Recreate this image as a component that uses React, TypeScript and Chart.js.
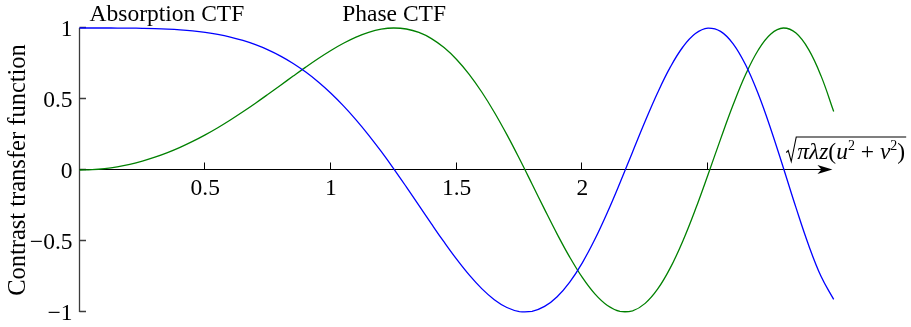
import { useEffect, useRef } from "react";
import { Chart, registerables } from "chart.js";

Chart.register(...registerables);

// Normalised spatial frequency sqrt(pi*lambda*z*(u^2+v^2))
const freq = [
  0, 0.05, 0.1, 0.15, 0.2, 0.25, 0.3, 0.35, 0.4, 0.45,
  0.5, 0.55, 0.6, 0.65, 0.7, 0.75, 0.8, 0.85, 0.9, 0.95,
  1, 1.05, 1.1, 1.15, 1.2, 1.25, 1.3, 1.35, 1.4, 1.45,
  1.5, 1.55, 1.6, 1.65, 1.7, 1.75, 1.8, 1.85, 1.9, 1.95,
  2, 2.05, 2.1, 2.15, 2.2, 2.25, 2.3, 2.35, 2.4, 2.45,
  2.5, 2.55, 2.6, 2.65, 2.7, 2.75, 2.8, 2.85, 2.9, 2.95,
  3,
];

const absorptionCtf = [
  1, 1, 1, 0.9997, 0.9992, 0.998, 0.996, 0.9925, 0.9872, 0.9796,
  0.9689, 0.9546, 0.9359, 0.9121, 0.8823, 0.8459, 0.8021, 0.7502, 0.6895, 0.6197,
  0.5403, 0.4514, 0.353, 0.2458, 0.1304, 0.0083, -0.1189, -0.249, -0.3795, -0.507,
  -0.6282, -0.7391, -0.8356, -0.9135, -0.9685, -0.9969, -0.9952, -0.9608, -0.8923, -0.7894,
  -0.6536, -0.4881, -0.2978, -0.0898, 0.1273, 0.343, 0.546, 0.7244, 0.8662, 0.9609,
  0.9994, 0.976, 0.8885, 0.7389, 0.5346, 0.2874, 0.014, -0.2653, -0.5278, -0.7503,
  -0.9111,
];

const phaseCtf = [
  0, 0.0025, 0.01, 0.0225, 0.04, 0.0625, 0.0899, 0.1222, 0.1593, 0.2011,
  0.2474, 0.2979, 0.3523, 0.41, 0.4706, 0.5333, 0.5972, 0.6613, 0.7243, 0.7849,
  0.8415, 0.8923, 0.9357, 0.9693, 0.9915, 1, 0.9929, 0.9685, 0.9252, 0.8619,
  0.7781, 0.6736, 0.5494, 0.4069, 0.2489, 0.079, -0.0983, -0.2772, -0.4515, -0.6138,
  -0.7568, -0.8728, -0.9546, -0.996, -0.9919, -0.9393, -0.8378, -0.6894, -0.4996, -0.277,
  -0.0332, 0.2176, 0.459, 0.6738, 0.8451, 0.9578, 0.9999, 0.9642, 0.8494, 0.6611,
  0.4121,
];

const xTickValues = [0.5, 1, 1.5, 2, 2.5];
const xTickLabels = ["0.5", "1", "1.5", "2", ""];
const yTickValues = [1, 0.5, 0, -0.5, -1];
const yTickLabels = ["1", "0.5", "0", "\u22120.5", "\u22121"];
const seriesNames = ["Absorption CTF", "Phase CTF"];
const yAxisTitle = "Contrast transfer function";

const SERIF = '"Liberation Serif", "Times New Roman", "DejaVu Serif", serif';
const FONT_SIZE = 23.5;

const axesPlugin = {
  id: "ctfAxes",
  beforeDatasetsDraw(chart: any) {
    const { ctx } = chart;
    const xs = chart.scales.x;
    const ys = chart.scales.y;
    const x0 = xs.getPixelForValue(0);
    const y0 = Math.round(ys.getPixelForValue(0)) - 0.5;
    const yTop = ys.getPixelForValue(1);
    const yBot = ys.getPixelForValue(-1);
    const tipX = xs.getPixelForValue(2.995);

    ctx.save();
    // vertical axis with inward ticks
    ctx.strokeStyle = "#3c3c3c";
    ctx.lineWidth = 1.3;
    ctx.beginPath();
    ctx.moveTo(x0, yTop);
    ctx.lineTo(x0, yBot);
    yTickValues.forEach((v) => {
      const py = Math.round(ys.getPixelForValue(v)) - 0.5;
      ctx.moveTo(x0, py);
      ctx.lineTo(x0 + 6.5, py);
    });
    ctx.stroke();

    // horizontal axis with arrow
    ctx.strokeStyle = "#000";
    ctx.lineWidth = 1;
    ctx.beginPath();
    ctx.moveTo(x0, y0);
    ctx.lineTo(tipX - 8, y0);
    xTickValues.forEach((v) => {
      const px = Math.round(xs.getPixelForValue(v)) - 0.5;
      ctx.moveTo(px, y0);
      ctx.lineTo(px, y0 - 7);
    });
    ctx.stroke();
    ctx.fillStyle = "#000";
    ctx.beginPath();
    ctx.moveTo(tipX, y0);
    ctx.lineTo(tipX - 15, y0 - 4.5);
    ctx.lineTo(tipX - 11, y0);
    ctx.lineTo(tipX - 15, y0 + 4.5);
    ctx.closePath();
    ctx.fill();

    // tick labels
    ctx.font = `${FONT_SIZE}px ${SERIF}`;
    ctx.fillStyle = "#000";
    ctx.textBaseline = "alphabetic";
    ctx.textAlign = "right";
    yTickValues.forEach((v, i) => {
      ctx.fillText(yTickLabels[i], x0 - 7, ys.getPixelForValue(v) + 7.5);
    });
    ctx.textAlign = "center";
    xTickValues.forEach((v, i) => {
      if (xTickLabels[i]) ctx.fillText(xTickLabels[i], xs.getPixelForValue(v), y0 + 25.5);
    });

    // axis title on the left
    ctx.save();
    ctx.font = `24.5px ${SERIF}`;
    ctx.translate(25, (yTop + yBot) / 2);
    ctx.rotate(-Math.PI / 2);
    ctx.textAlign = "center";
    ctx.fillText(yAxisTitle, 0, 0);
    ctx.restore();

    // x-axis title: sqrt(pi lambda z (u^2 + v^2))
    const base = y0 - 11;
    const startX = xs.getPixelForValue(2.855);
    const italic = `italic ${FONT_SIZE}px ${SERIF}`;
    const roman = `${FONT_SIZE}px ${SERIF}`;
    const sup = `${Math.round(FONT_SIZE * 0.6)}px ${SERIF}`;
    const parts: Array<[string, string, number]> = [
      ["\u03c0", italic, 0],
      ["\u03bb", italic, 0],
      ["z", italic, 0],
      ["(", roman, 0],
      ["u", italic, 0],
      ["2", sup, -9],
      [" + ", roman, 0],
      ["v", italic, 0],
      ["2", sup, -9],
      [")", roman, 0],
    ];
    ctx.textAlign = "left";
    let cx = startX;
    parts.forEach(([t, f, dy]) => {
      ctx.font = f;
      ctx.fillText(t, cx, base + dy);
      cx += ctx.measureText(t).width;
    });
    const barY = base - 21.5;
    ctx.lineWidth = 1.1;
    ctx.beginPath();
    ctx.moveTo(startX - 11, base - 6);
    ctx.lineTo(startX - 9, base - 8);
    ctx.lineTo(startX - 6, base + 3);
    ctx.lineTo(startX - 1, barY);
    ctx.lineTo(cx + 1, barY);
    ctx.stroke();
    ctx.restore();
  },
  afterDraw(chart: any) {
    const { ctx } = chart;
    const xs = chart.scales.x;
    ctx.save();
    ctx.font = `${FONT_SIZE}px ${SERIF}`;
    ctx.fillStyle = "#000";
    ctx.textAlign = "left";
    ctx.textBaseline = "alphabetic";
    ctx.fillText(seriesNames[0], xs.getPixelForValue(0.04), 21);
    ctx.fillText(seriesNames[1], xs.getPixelForValue(1.045), 21);
    ctx.restore();
  },
};

export default function App() {
  const ref = useRef<HTMLCanvasElement | null>(null);

  useEffect(() => {
    if (!ref.current) return;
    const chart = new Chart(ref.current, {
      type: "line",
      data: {
        datasets: [
          {
            label: seriesNames[0],
            data: freq.map((f, i) => ({ x: f, y: absorptionCtf[i] })),
            borderColor: "#0000ff",
            borderWidth: 1.3,
            pointRadius: 0,
            tension: 0.4,
            fill: false,
            clip: false as any,
          },
          {
            label: seriesNames[1],
            data: freq.map((f, i) => ({ x: f, y: phaseCtf[i] })),
            borderColor: "#008000",
            borderWidth: 1.3,
            pointRadius: 0,
            tension: 0.4,
            fill: false,
            clip: false as any,
          },
        ],
      },
      options: {
        animation: false,
        responsive: false,
        maintainAspectRatio: false,
        events: [],
        layout: { padding: { left: 79.5, right: 77.3, top: 28, bottom: 15 } },
        plugins: { legend: { display: false }, tooltip: { enabled: false } },
        scales: {
          x: { type: "linear", min: 0, max: 3, display: false },
          y: { type: "linear", min: -1, max: 1, display: false },
        },
      },
      plugins: [axesPlugin],
    });
    return () => chart.destroy();
  }, []);

  return (
    <div style={{ position: "fixed", left: 0, top: 0, width: 911, height: 327, background: "#fff" }}>
      <canvas ref={ref} width={911} height={327} style={{ display: "block" }} />
    </div>
  );
}
